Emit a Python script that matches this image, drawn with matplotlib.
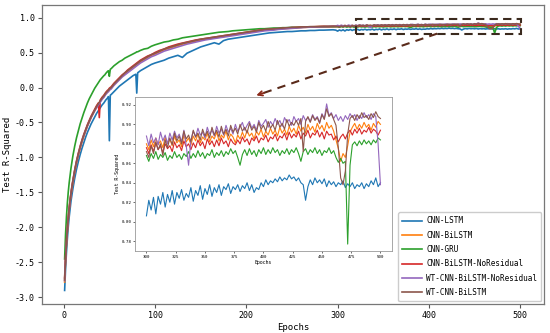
import matplotlib
matplotlib.use("Agg")
import matplotlib.pyplot as plt
import matplotlib.patches as patches
import numpy as np

plt.rcParams['font.family'] = ['DejaVu Sans Mono']
plt.rcParams['axes.unicode_minus'] = False

# ---------------- data ----------------
labels = ["CNN-LSTM", "CNN-BiLSTM", "CNN-GRU", "CNN-BiLSTM-NoResidual",
          "WT-CNN-BiLSTM-NoResidual", "WT-CNN-BiLSTM"]
colors = ["#1f77b4", "#ff7f0e", "#2ca02c", "#d62728", "#9467bd", "#8c564b"]

epochs_early = [1, 2, 3, 4, 5, 6, 7, 8, 9, 10,
                12, 14, 16, 18, 20, 22, 24, 26, 28, 30, 32, 34, 36, 38,
                39, 40,
                42, 44, 45, 46, 48, 49, 50, 51, 52,
                55, 58, 61, 64, 67, 70, 73, 76, 79,
                80, 81,
                84, 88, 92, 96, 100,
                105, 110, 115, 120, 125, 130, 135, 140, 145, 150,
                155, 160, 165, 170, 175, 180, 185, 190, 195, 200,
                205, 210, 215, 220, 225, 230, 235, 240, 245, 250,
                255, 260, 265, 270, 275, 280, 285, 290, 295, 298]
epochs_late = list(range(300, 501, 2))

cnn_lstm_early = [-2.90, -2.60, -2.36, -2.16, -1.99, -1.85, -1.73, -1.62, -1.53, -1.45,
                  -1.30, -1.17, -1.06, -0.96, -0.87, -0.79, -0.71, -0.64, -0.58, -0.52, -0.47, -0.42, -0.37, -0.33,
                  -0.31, -0.29,
                  -0.25, -0.22, -0.20, -0.18, -0.15, -0.13, -0.76, -0.11, -0.10,
                  -0.06, -0.02, 0.02, 0.05, 0.08, 0.11, 0.14, 0.17, 0.19,
                  -0.08, 0.21,
                  0.24, 0.27, 0.30, 0.33, 0.35,
                  0.37, 0.39, 0.42, 0.44, 0.46, 0.43, 0.49, 0.52, 0.55, 0.58,
                  0.60, 0.62, 0.64, 0.62, 0.67, 0.69, 0.70, 0.71, 0.72, 0.73,
                  0.74, 0.75, 0.76, 0.77, 0.78, 0.785, 0.79, 0.795, 0.80, 0.80,
                  0.805, 0.81, 0.81, 0.815, 0.815, 0.82, 0.82, 0.822, 0.825, 0.82]
cnn_lstm_late = [0.806, 0.822, 0.812, 0.825, 0.808, 0.826, 0.818, 0.830, 0.815, 0.828,
                 0.820, 0.832, 0.818, 0.830, 0.824, 0.833, 0.822, 0.829, 0.825, 0.835,
                 0.821, 0.832, 0.827, 0.837, 0.823, 0.834, 0.828, 0.838, 0.826, 0.835,
                 0.830, 0.838, 0.827, 0.836, 0.833, 0.839, 0.829, 0.836, 0.833, 0.838,
                 0.831, 0.837, 0.834, 0.840, 0.832, 0.838, 0.830, 0.835, 0.833, 0.840,
                 0.836, 0.843, 0.838, 0.842, 0.840, 0.844, 0.841, 0.846, 0.842, 0.845,
                 0.843, 0.848, 0.844, 0.846, 0.842, 0.845, 0.840, 0.838, 0.822, 0.836,
                 0.843, 0.838, 0.845, 0.840, 0.843, 0.839, 0.844, 0.836, 0.842, 0.838,
                 0.841, 0.836, 0.840, 0.838, 0.842, 0.835, 0.839, 0.836, 0.840, 0.834,
                 0.838, 0.836, 0.840, 0.834, 0.839, 0.836, 0.842, 0.838, 0.845, 0.836,
                 0.840]

cnn_bilstm_early = [-2.78, -2.47, -2.24, -2.05, -1.89, -1.75, -1.63, -1.53, -1.44, -1.36,
                    -1.21, -1.08, -0.97, -0.87, -0.78, -0.70, -0.62, -0.55, -0.49, -0.43, -0.38, -0.33, -0.28, -0.24,
                    -0.22, -0.20,
                    -0.16, -0.13, -0.11, -0.09, -0.06, -0.05, -0.03, -0.02, -0.01,
                    0.04, 0.08, 0.12, 0.16, 0.20, 0.23, 0.26, 0.29, 0.32,
                    0.33, 0.34,
                    0.37, 0.40, 0.43, 0.46, 0.48,
                    0.51, 0.54, 0.56, 0.58, 0.60, 0.62, 0.635, 0.65, 0.665, 0.68,
                    0.69, 0.70, 0.71, 0.72, 0.73, 0.74, 0.75, 0.76, 0.77, 0.78,
                    0.79, 0.80, 0.81, 0.82, 0.825, 0.83, 0.835, 0.84, 0.845, 0.85,
                    0.855, 0.86, 0.86, 0.865, 0.868, 0.87, 0.872, 0.871, 0.874, 0.876]
cnn_bilstm_late = [0.880, 0.874, 0.884, 0.877, 0.886, 0.879, 0.883, 0.876, 0.887, 0.880,
                   0.885, 0.878, 0.888, 0.881, 0.884, 0.877, 0.889, 0.882, 0.886, 0.879,
                   0.888, 0.883, 0.890, 0.881, 0.887, 0.884, 0.891, 0.882, 0.888, 0.885,
                   0.892, 0.883, 0.889, 0.886, 0.893, 0.884, 0.890, 0.887, 0.881, 0.889,
                   0.885, 0.892, 0.886, 0.894, 0.888, 0.891, 0.885, 0.893, 0.889, 0.895,
                   0.887, 0.893, 0.889, 0.896, 0.890, 0.894, 0.888, 0.897, 0.891, 0.895,
                   0.889, 0.898, 0.892, 0.896, 0.890, 0.899, 0.893, 0.897, 0.891, 0.900,
                   0.894, 0.898, 0.892, 0.901, 0.895, 0.899, 0.893, 0.902, 0.896, 0.899,
                   0.893, 0.884, 0.875, 0.862, 0.870, 0.866, 0.878, 0.892, 0.897, 0.901,
                   0.895, 0.900, 0.896, 0.902, 0.897, 0.900, 0.894, 0.901, 0.897, 0.903,
                   0.900]

cnn_gru_early = [-2.45, -2.10, -1.85, -1.65, -1.49, -1.36, -1.25, -1.15, -1.06, -0.98,
                 -0.84, -0.72, -0.62, -0.52, -0.44, -0.36, -0.29, -0.22, -0.16, -0.11, -0.06, -0.01, 0.03, 0.07,
                 0.09, 0.11,
                 0.14, 0.17, 0.18, 0.20, 0.23, 0.24, 0.16, 0.26, 0.27,
                 0.31, 0.34, 0.37, 0.39, 0.42, 0.44, 0.46, 0.48, 0.50,
                 0.51, 0.51,
                 0.53, 0.55, 0.56, 0.59, 0.61,
                 0.63, 0.65, 0.66, 0.68, 0.69, 0.71, 0.72, 0.73, 0.74, 0.75,
                 0.76, 0.77, 0.78, 0.79, 0.795, 0.80, 0.81, 0.815, 0.82, 0.825,
                 0.83, 0.835, 0.84, 0.84, 0.845, 0.85, 0.85, 0.855, 0.855, 0.86,
                 0.86, 0.86, 0.865, 0.865, 0.865, 0.868, 0.866, 0.87, 0.867, 0.869]
cnn_gru_late = [0.868, 0.862, 0.870, 0.865, 0.872, 0.864, 0.869, 0.866, 0.871, 0.863,
                0.868, 0.865, 0.872, 0.866, 0.869, 0.864, 0.870, 0.867, 0.872, 0.865,
                0.870, 0.866, 0.873, 0.867, 0.871, 0.865, 0.870, 0.868, 0.874, 0.866,
                0.871, 0.868, 0.873, 0.867, 0.872, 0.869, 0.875, 0.870, 0.873, 0.866,
                0.858, 0.869, 0.874, 0.868, 0.875, 0.869, 0.873, 0.867, 0.874, 0.870,
                0.876, 0.869, 0.874, 0.870, 0.876, 0.871, 0.874, 0.868, 0.873, 0.870,
                0.875, 0.869, 0.874, 0.871, 0.876, 0.870, 0.862, 0.872, 0.875, 0.869,
                0.874, 0.871, 0.876, 0.870, 0.874, 0.868, 0.873, 0.871, 0.876, 0.870,
                0.873, 0.866, 0.861, 0.865, 0.860, 0.862, 0.777, 0.858, 0.879, 0.882,
                0.878, 0.883, 0.879, 0.884, 0.880, 0.883, 0.879, 0.884, 0.881, 0.886,
                0.884]

cnn_bilstm_nores_early = [-2.72, -2.43, -2.20, -2.01, -1.85, -1.72, -1.60, -1.50, -1.41, -1.33,
                          -1.18, -1.05, -0.94, -0.84, -0.75, -0.67, -0.60, -0.53, -0.47, -0.41, -0.36, -0.31, -0.26, -0.22,
                          -0.43, -0.18,
                          -0.14, -0.11, -0.09, -0.07, -0.04, -0.03, -0.01, 0.00, 0.01,
                          0.06, 0.10, 0.14, 0.18, 0.21, 0.25, 0.28, 0.31, 0.34,
                          0.35, 0.36,
                          0.39, 0.42, 0.45, 0.47, 0.50,
                          0.53, 0.55, 0.58, 0.60, 0.62, 0.635, 0.65, 0.665, 0.68, 0.69,
                          0.70, 0.71, 0.72, 0.73, 0.74, 0.75, 0.76, 0.77, 0.78, 0.79,
                          0.80, 0.81, 0.82, 0.825, 0.83, 0.835, 0.84, 0.845, 0.85, 0.855,
                          0.858, 0.862, 0.864, 0.867, 0.868, 0.870, 0.872, 0.870, 0.873, 0.872]
cnn_bilstm_nores_late = [0.876, 0.870, 0.879, 0.872, 0.881, 0.874, 0.878, 0.871, 0.880, 0.875,
                         0.878, 0.872, 0.882, 0.876, 0.879, 0.873, 0.883, 0.877, 0.880, 0.874,
                         0.881, 0.876, 0.884, 0.878, 0.882, 0.875, 0.885, 0.879, 0.883, 0.877,
                         0.884, 0.878, 0.886, 0.880, 0.883, 0.877, 0.885, 0.881, 0.879, 0.884,
                         0.880, 0.887, 0.882, 0.885, 0.879, 0.886, 0.883, 0.888, 0.881, 0.886,
                         0.884, 0.889, 0.882, 0.887, 0.885, 0.890, 0.883, 0.888, 0.886, 0.891,
                         0.884, 0.892, 0.886, 0.890, 0.887, 0.893, 0.885, 0.891, 0.888, 0.894,
                         0.886, 0.891, 0.889, 0.894, 0.887, 0.892, 0.885, 0.893, 0.889, 0.890,
                         0.884, 0.888, 0.882, 0.887, 0.890, 0.885, 0.891, 0.894, 0.889, 0.895,
                         0.891, 0.896, 0.890, 0.894, 0.892, 0.897, 0.891, 0.895, 0.893, 0.889,
                         0.894]

wt_cnn_bilstm_nores_early = [-2.76, -2.46, -2.23, -2.04, -1.88, -1.74, -1.62, -1.52, -1.43, -1.35,
                             -1.20, -1.07, -0.96, -0.86, -0.77, -0.69, -0.62, -0.55, -0.49, -0.43, -0.38, -0.33, -0.29, -0.25,
                             -0.23, -0.21,
                             -0.17, -0.14, -0.12, -0.10, -0.07, -0.06, -0.04, -0.03, -0.02,
                             0.03, 0.07, 0.11, 0.15, 0.18, 0.21, 0.24, 0.27, 0.30,
                             0.31, 0.32,
                             0.35, 0.38, 0.41, 0.44, 0.46,
                             0.49, 0.52, 0.54, 0.56, 0.58, 0.60, 0.62, 0.635, 0.65, 0.665,
                             0.68, 0.69, 0.70, 0.71, 0.72, 0.73, 0.74, 0.75, 0.76, 0.77,
                             0.78, 0.79, 0.80, 0.81, 0.815, 0.82, 0.83, 0.835, 0.84, 0.845,
                             0.85, 0.855, 0.86, 0.862, 0.865, 0.868, 0.870, 0.872, 0.874, 0.876]
wt_cnn_bilstm_nores_late = [0.888, 0.878, 0.890, 0.881, 0.886, 0.879, 0.892, 0.883, 0.889, 0.880,
                            0.891, 0.884, 0.893, 0.886, 0.890, 0.882, 0.894, 0.878, 0.858, 0.884,
                            0.893, 0.887, 0.896, 0.889, 0.892, 0.886, 0.897, 0.890, 0.894, 0.888,
                            0.898, 0.891, 0.895, 0.889, 0.899, 0.892, 0.896, 0.890, 0.900, 0.893,
                            0.897, 0.902, 0.894, 0.899, 0.903, 0.896, 0.900, 0.894, 0.904, 0.898,
                            0.901, 0.905, 0.897, 0.903, 0.899, 0.906, 0.900, 0.904, 0.898, 0.907,
                            0.902, 0.905, 0.899, 0.908, 0.903, 0.906, 0.900, 0.909, 0.904, 0.907,
                            0.903, 0.910, 0.905, 0.908, 0.902, 0.911, 0.906, 0.921, 0.909, 0.912,
                            0.906, 0.910, 0.904, 0.908, 0.903, 0.909, 0.905, 0.911, 0.907, 0.910,
                            0.904, 0.909, 0.906, 0.912, 0.907, 0.910, 0.905, 0.911, 0.908, 0.880,
                            0.838]

wt_cnn_bilstm_early = [-2.75, -2.45, -2.22, -2.03, -1.87, -1.73, -1.61, -1.51, -1.42, -1.34,
                       -1.19, -1.06, -0.95, -0.85, -0.76, -0.68, -0.61, -0.54, -0.48, -0.42, -0.37, -0.32, -0.27, -0.23,
                       -0.21, -0.19,
                       -0.15, -0.12, -0.10, -0.08, -0.05, -0.04, -0.02, -0.01, 0.00,
                       0.05, 0.09, 0.13, 0.17, 0.21, 0.24, 0.27, 0.30, 0.33,
                       0.34, 0.35,
                       0.38, 0.41, 0.44, 0.47, 0.49,
                       0.52, 0.55, 0.57, 0.59, 0.61, 0.63, 0.645, 0.66, 0.675, 0.69,
                       0.70, 0.71, 0.72, 0.73, 0.74, 0.75, 0.76, 0.77, 0.78, 0.79,
                       0.80, 0.81, 0.82, 0.83, 0.835, 0.84, 0.845, 0.85, 0.855, 0.86,
                       0.86, 0.865, 0.865, 0.87, 0.87, 0.872, 0.874, 0.873, 0.876, 0.874]
wt_cnn_bilstm_late = [0.872, 0.866, 0.878, 0.870, 0.882, 0.874, 0.880, 0.868, 0.884, 0.876,
                      0.886, 0.879, 0.891, 0.883, 0.888, 0.880, 0.893, 0.885, 0.889, 0.882,
                      0.894, 0.887, 0.891, 0.884, 0.895, 0.888, 0.893, 0.886, 0.897, 0.889,
                      0.894, 0.887, 0.898, 0.890, 0.895, 0.888, 0.899, 0.892, 0.896, 0.890,
                      0.900, 0.893, 0.897, 0.891, 0.901, 0.894, 0.898, 0.892, 0.902, 0.895,
                      0.899, 0.893, 0.903, 0.896, 0.900, 0.894, 0.904, 0.897, 0.901, 0.895,
                      0.905, 0.898, 0.902, 0.899, 0.904, 0.899, 0.906, 0.872, 0.903, 0.908,
                      0.902, 0.909, 0.904, 0.907, 0.901, 0.910, 0.905, 0.916, 0.908, 0.911,
                      0.905, 0.899, 0.876, 0.845, 0.838, 0.852, 0.890, 0.906, 0.909, 0.904,
                      0.910, 0.906, 0.912, 0.907, 0.909, 0.905, 0.911, 0.907, 0.913, 0.908,
                      0.906]

early_series = [cnn_lstm_early, cnn_bilstm_early, cnn_gru_early,
                cnn_bilstm_nores_early, wt_cnn_bilstm_nores_early, wt_cnn_bilstm_early]
late_series = [cnn_lstm_late, cnn_bilstm_late, cnn_gru_late,
               cnn_bilstm_nores_late, wt_cnn_bilstm_nores_late, wt_cnn_bilstm_late]

main_xticks = [0, 100, 200, 300, 400, 500]
main_yticks = [-3.0, -2.5, -2.0, -1.5, -1.0, -0.5, 0.0, 0.5, 1.0]
inset_xticks = [300, 325, 350, 375, 400, 425, 450, 475, 500]
inset_yticks = [0.78, 0.80, 0.82, 0.84, 0.86, 0.88, 0.90, 0.92]

# ---------------- figure ----------------
fig = plt.figure(figsize=(5.5, 3.33), dpi=100)
ax = fig.add_axes([0.076, 0.087, 0.913, 0.898])

for lab, col, e, l in zip(labels, colors, early_series, late_series):
    ax.plot(epochs_early + epochs_late, e + l, color=col, lw=1.2, label=lab)

ax.set_xticks(main_xticks)
ax.set_yticks(main_yticks)
ax.set_yticklabels([f"{v:.1f}" for v in main_yticks])
ax.tick_params(labelsize=6, length=3, width=0.8, color='#555555', pad=2)
ax.set_xlabel("Epochs", fontsize=6.5, labelpad=2)
ax.set_ylabel("Test R-Squared", fontsize=6.5, labelpad=2)
for s in ax.spines.values():
    s.set_color('#777777')
    s.set_linewidth(0.9)

leg = ax.legend(loc='lower right', fontsize=5.5, handlelength=2.6, labelspacing=0.7,
                borderpad=0.55, handletextpad=0.5, framealpha=1, edgecolor='#cccccc',
                borderaxespad=0.35)

# dashed zoom rectangle
rect = patches.Rectangle((320, 0.77), 181, 0.215, fill=False,
                         edgecolor='#3b2a1e', lw=1.5, ls=(0, (4, 2.5)), zorder=5)
ax.add_patch(rect)
# dashed arrow
ax.plot([409, 214], [0.77, -0.10], ls=(0, (4, 3)), color='#5a2a1a', lw=1.5, zorder=5)
ax.annotate('', xy=(208, -0.125), xytext=(222, -0.065),
            arrowprops=dict(arrowstyle='->', color='#8b2a1a', lw=1.3,
                            mutation_scale=8), zorder=6)

# inset
axi = fig.add_axes([0.245, 0.246, 0.468, 0.463])
for lab, col, l in zip(labels, colors, late_series):
    axi.plot(epochs_late, l, color=col, lw=0.8)
axi.set_xticks(inset_xticks)
axi.set_yticks(inset_yticks)
axi.set_yticklabels([f"{v:.2f}" for v in inset_yticks])
axi.tick_params(labelsize=3, length=1.5, width=0.4, pad=1)
axi.set_xlabel("Epochs", fontsize=3.5, labelpad=1)
axi.set_ylabel("Test R-Squared", fontsize=3.5, labelpad=1)
for s in axi.spines.values():
    s.set_color('#999999')
    s.set_linewidth(0.6)

fig.savefig("out.png", dpi=100)
